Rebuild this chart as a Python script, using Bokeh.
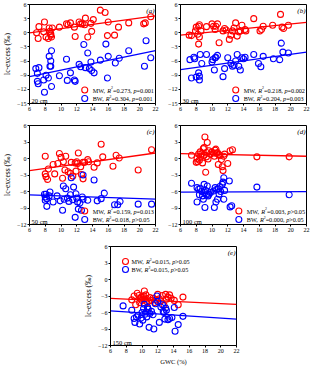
from bokeh.plotting import figure
from bokeh.layouts import column, row, Spacer
from bokeh.models import FixedTicker, Range1d
from bokeh.core.properties import value
from bokeh.embed import file_html
from bokeh.resources import INLINE
import numpy as np

FONT = "Liberation Serif"
RED = "#ff0000"
BLUE = "#0000ff"

x_ticks = [6, 8, 10, 12, 14, 16, 18, 20, 22]
y_ticks_ab = [-15, -12, -9, -6, -3, 0, 3, 6]
y_ticks_cde = [-12, -9, -6, -3, 0, 3, 6]
panel_tags = ["(a)", "(b)", "(c)", "(d)", "(e)"]
depths = ["20 cm", "30 cm", "50 cm", "100 cm", "150 cm"]
y_title = "lc-excess (‰)"
x_title = "GWC (%)"

# ---- panel (a) 20 cm
xa_mw = [6.9, 7.1, 7.2, 7.8, 7.9, 8.1, 8.4, 8.5, 8.6, 8.7, 8.7, 8.8, 8.9, 9.8, 10.7, 10.9, 11.2, 11.7, 11.8, 12.3,
         12.5, 12.7, 13.0, 13.1, 13.4, 13.8, 13.9, 14.1, 15.0, 15.6, 16.0, 15.9, 16.8, 17.3, 18.6, 20.5, 20.7, 21.4]
ya_mw = [0.0, -1.2, 1.3, 0.2, 2.3, -0.9, -1.2, 1.0, 0.3, -0.2, -0.5, -0.9, 1.0, 1.2, 1.9, 1.7, 2.1, 1.2, -0.8, 2.3,
         1.9, 1.9, 1.7, 3.1, -0.9, 2.0, 0.3, 2.8, 4.8, 4.3, 2.3, -0.6, -0.5, 1.2, 2.1, 1.9, 2.1, 3.4]
xa_bw = [6.8, 7.0, 7.0, 7.1, 7.2, 7.8, 7.9, 8.1, 8.4, 8.5, 8.6, 8.7, 8.7, 8.8, 8.8, 9.8, 10.7, 10.8, 11.2, 11.7,
         11.8, 12.3, 12.5, 12.9, 13.1, 13.4, 13.6, 13.8, 13.9, 14.2, 15.0, 15.7, 15.9, 16.0, 16.9, 17.4, 18.6, 20.6, 20.8, 21.4]
ya_bw = [-7.6, -8.6, -10.3, -10.8, -7.4, -10.0, -12.6, -9.0, -9.6, -5.0, -7.1, -7.1, -6.0, -3.8, -11.4, -9.1, -5.6, -10.1, -8.5, -10.0,
         -10.3, -6.7, -7.2, -2.5, -7.4, -4.3, -7.6, -6.2, -8.0, -8.5, -5.8, -2.4, -9.6, -5.0, -6.4, -5.4, -3.8, -7.1, -1.7, -5.3]

# ---- panel (b) 30 cm
xb_mw = [7.1, 7.4, 7.9, 8.0, 8.2, 8.3, 8.4, 8.3, 8.4, 8.6, 9.3, 10.0, 10.2, 10.4, 10.5, 10.7, 10.9, 11.4, 11.6, 11.8,
         12.2, 12.4, 12.6, 12.8, 13.0, 13.2, 13.4, 13.6, 13.8, 14.2, 14.3, 15.3, 16.1, 16.3, 16.5, 17.7, 18.7, 18.9, 19.1, 19.7]
yb_mw = [-0.5, -0.6, 0.4, 1.2, -0.3, 1.4, 1.7, -2.4, -0.9, 0.4, 1.3, 1.9, 1.4, 0.7, 1.4, 1.9, -2.1, 0.4, 0.9, 0.6,
         -1.4, -0.5, 0.4, 1.0, 2.1, -0.7, 0.2, 0.4, 1.6, 0.7, 0.4, 3.0, 0.4, 0.7, 1.4, 1.6, 3.9, 1.2, 0.9, 1.6]
xb_bw = [7.2, 7.4, 7.7, 7.8, 8.0, 8.3, 8.4, 8.4, 8.5, 8.7, 9.3, 10.0, 10.1, 10.3, 10.4, 10.5, 10.7, 11.4, 11.6, 12.0,
         12.4, 12.6, 12.8, 13.0, 13.2, 13.4, 13.6, 13.8, 14.0, 14.2, 15.3, 15.9, 16.2, 16.5, 17.8, 18.6, 18.8, 19.0, 19.7]
yb_bw = [-5.7, -9.6, -5.2, -5.5, -9.4, -8.5, -9.2, -10.0, -4.6, -6.5, -4.6, -6.2, -5.7, -7.9, -5.3, -5.2, -4.8, -9.3, -7.6, -5.3,
         -6.5, -7.1, -6.9, -6.0, -4.6, -7.1, -7.9, -5.3, -5.5, -5.2, -4.6, -6.5, -7.2, -5.0, -5.5, -5.7, -2.2, -4.1, -4.3]

# ---- panel (c) 50 cm
xc_mw = [8.0, 8.0, 8.1, 8.3, 8.4, 9.0, 9.2, 9.6, 9.8, 10.0, 10.2, 10.3, 10.5, 10.6, 10.9, 11.2, 11.3, 11.5, 11.8, 11.9,
         12.0, 12.1, 12.2, 12.5, 12.6, 12.8, 12.8, 13.0, 13.4, 13.5, 14.2, 14.6, 15.1, 15.3, 16.6, 17.0, 17.4, 19.8, 21.5]
yc_mw = [0.4, -2.8, -3.3, -3.8, -1.9, -1.1, -2.8, -0.9, 0.9, 0.2, -3.6, -0.6, -2.1, 0.4, -2.4, -2.7, -0.7, -3.2, -0.8, -2.3,
         -0.6, -0.9, 1.0, -1.5, -2.9, -0.7, -3.7, -0.7, -0.2, -0.6, -1.6, -0.8, 2.6, 0.3, -1.4, 0.6, 0.1, -2.1, 1.6]
xc_bw = [7.9, 8.0, 8.0, 8.1, 8.2, 8.2, 8.5, 8.6, 9.0, 9.5, 9.9, 10.2, 10.3, 10.4, 10.6, 10.8, 11.0, 11.2, 11.3, 11.5,
         11.6, 11.8, 11.9, 12.0, 12.1, 12.2, 12.4, 12.6, 12.7, 12.8, 12.8, 13.4, 14.2, 14.6, 15.1, 15.5, 16.8, 17.2, 17.5, 19.8, 21.5]
yc_bw = [-6.5, -7.0, -7.6, -6.5, -8.7, -7.3, -6.8, -6.1, -7.9, -6.8, -7.7, -9.4, -5.0, -7.4, -5.5, -7.2, -7.8, -6.6, -3.5, -7.5,
         -5.2, -10.7, -6.4, -7.2, -7.9, -9.2, -8.1, -9.4, -7.0, -3.0, -7.4, -7.6, -3.9, -7.7, -7.3, -6.3, -8.4, -8.4, -7.8, -8.3, -8.3]

# ---- panel (d) 100 cm
xd_mw = [7.4, 8.0, 8.1, 8.2, 8.3, 8.4, 8.5, 8.6, 8.7, 8.8, 8.9, 9.0, 9.0, 9.1, 9.2, 9.3, 9.3, 9.4, 9.5, 9.6,
         9.8, 10.0, 10.2, 10.3, 10.4, 10.5, 10.6, 10.7, 10.8, 10.9, 11.0, 11.2, 11.3, 11.4, 11.5, 11.6, 12.0, 12.3, 12.6, 15.7, 19.8]
yd_mw = [0.6, -0.7, 0.0, -0.6, 0.8, -0.3, 1.2, 0.4, 0.9, -0.8, 1.8, 2.0, 0.6, 3.9, -2.5, 0.3, 1.1, 2.9, -0.1, 1.4,
         0.8, 1.2, 1.0, 0.4, 1.5, 1.7, 0.9, 1.1, -1.1, 0.7, 0.5, -0.2, -1.5, -2.2, 0.4, 0.8, -0.9, 1.4, 1.6, 0.3, 0.3]
xd_bw = [7.4, 8.1, 8.1, 8.3, 8.4, 8.5, 8.7, 8.8, 8.9, 9.0, 9.1, 9.1, 9.2, 9.3, 9.4, 9.5, 9.6, 9.8, 10.2, 10.3,
         10.4, 10.5, 10.6, 10.7, 10.8, 10.9, 11.0, 11.1, 11.3, 11.4, 11.5, 11.5, 11.6, 12.2, 12.3, 12.5, 15.7, 19.8]
yd_bw = [-4.5, -7.9, -5.3, -5.6, -6.6, -5.4, -6.0, -6.8, -7.4, -4.7, -8.9, -6.2, -5.8, -6.6, -5.0, -6.8, -6.5, -6.2, -5.9, -8.9,
         -5.3, -7.9, -5.6, -7.4, -5.5, -6.5, -5.1, -6.0, -4.7, -4.3, -3.5, -7.4, -5.8, -4.1, -8.8, -8.6, -5.2, -6.6]

# ---- panel (e) 150 cm
xe_mw = [8.7, 9.0, 9.2, 9.4, 9.6, 9.7, 9.8, 9.9, 10.0, 10.1, 10.2, 10.3, 10.4, 10.5, 10.6, 10.7, 10.9, 11.0, 11.2, 11.4,
         11.6, 11.8, 12.0, 12.2, 12.4, 12.6, 12.8, 13.0, 13.1, 13.3, 13.5, 13.7, 14.1, 14.6, 15.2]
ye_mw = [-3.7, -3.0, -4.6, -2.5, -2.9, -4.2, -3.5, -3.2, -3.8, -3.3, -3.0, -2.1, -3.6, -2.8, -4.0, -5.2, -3.9, -3.3, -3.8, -3.4,
         -4.2, -3.7, -2.7, -3.5, -3.9, -2.9, -4.7, -2.7, -3.6, -3.2, -2.8, -3.4, -3.8, -4.6, -3.2]
xe_bw = [7.6, 8.7, 9.0, 9.1, 9.3, 9.5, 9.7, 9.9, 10.0, 10.1, 10.2, 10.3, 10.4, 10.5, 10.6, 10.7, 10.8, 10.9, 11.0, 11.2,
         11.4, 11.5, 11.7, 11.9, 12.0, 12.2, 12.4, 12.6, 12.7, 12.8, 12.9, 13.0, 13.1, 13.3, 13.5, 13.8, 14.1, 14.2, 14.6, 15.2]
ye_bw = [-4.8, -5.6, -7.1, -7.8, -6.8, -6.5, -8.1, -7.0, -6.0, -7.4, -5.3, -4.5, -6.3, -5.9, -6.8, -5.0, -5.4, -8.7, -6.2, -5.8,
         -6.4, -9.0, -4.4, -3.0, -4.0, -7.8, -5.0, -4.6, -5.8, -6.0, -7.2, -5.2, -5.6, -7.3, -7.1, -6.9, -5.1, -9.4, -8.2, -6.7]

# fitted regression coefficients (intercept, slope)
fit_mw = [(-1.35, 0.225), (-1.51, 0.169), (-3.40, 0.200), (1.09, -0.031), (-3.00, -0.069)]
fit_bw = [(-11.36, 0.344), (-9.19, 0.231), (-6.30, -0.050), (-6.14, 0.006), (-5.14, -0.094)]

r2_mw = ["0.273", "0.218", "0.159", "0.003", "0.015"]
p_mw = ["=0.001", "=0.002", "=0.013", ">0.05", ">0.05"]
r2_bw = ["0.304", "0.204", "0.018", "0.000", "0.015"]
p_bw = ["=0.001", "=0.003", ">0.05", ">0.05", ">0.05"]

# Times-like glyph advance widths (per 1000 em)
REG_W = {"M": 889, "W": 944, "B": 667, ",": 250, " ": 250, "=": 564, ">": 564, "<": 564, ".": 250}
for d in "0123456789":
    REG_W[d] = 500
ITA_W = {"R": 611, "p": 500}


def text_width(s, style, fs):
    tbl = ITA_W if style == "italic" else REG_W
    return sum(tbl.get(c, 500) for c in s) * fs / 1000.0


FW = 126
FH = 99
XMIN, XMAX = 6, 22
TICK_FS = "6px"
LEG_FS = 6.2
MSIZE = 6


def legend_pieces(name, r2, pv):
    return [(name + ", ", "normal", False), ("R", "italic", False), ("2", "normal", True),
            ("=" + r2 + ", ", "normal", False), ("p", "italic", False), (pv, "normal", False)]


def draw_rich(p, pieces, xa, ya, x_px, y_px, fs):
    cur = 0.0
    for txt, style, sup in pieces:
        f = fs * 0.62 if sup else fs
        p.text(x=[xa], y=[ya], text=[txt], x_offset=x_px + cur,
               y_offset=y_px - (fs * 0.36 if sup else 0.0),
               text_font=value(FONT), text_font_size=f"{f:.2f}px", text_font_style=style,
               text_align="left", text_baseline="middle", text_color="black")
        cur += text_width(txt, style, f)
    return cur


def total_width(pieces, fs):
    return sum(text_width(t, s, fs * 0.62 if sup else fs) for t, s, sup in pieces)


def make_panel(i, xm, ym, xb, yb, ymin, yticks, left_label, bottom_label, legend_top,
               bl, br, bb):
    p = figure(frame_width=FW, frame_height=FH, x_range=Range1d(XMIN, XMAX), y_range=Range1d(ymin, 6),
               output_backend="svg", toolbar_location=None,
               min_border_left=bl, min_border_right=br, min_border_top=4, min_border_bottom=bb)
    p.xgrid.visible = False
    p.ygrid.visible = False
    p.outline_line_color = "black"
    p.outline_line_width = 1
    p.outline_line_alpha = 1
    p.background_fill_color = "white"
    p.border_fill_color = "white"
    p.xaxis.ticker = FixedTicker(ticks=x_ticks)
    p.yaxis.ticker = FixedTicker(ticks=yticks)
    for ax in (p.xaxis[0], p.yaxis[0]):
        ax.major_label_text_font = FONT
        ax.major_label_text_font_size = TICK_FS
        ax.major_label_text_color = "black"
        ax.major_tick_out = 2
        ax.major_tick_in = 0
        ax.minor_tick_out = 0
        ax.minor_tick_in = 0
        ax.axis_line_color = "black"
        ax.major_tick_line_color = "black"
        ax.major_label_standoff = 1
        ax.axis_label_text_font = FONT
        ax.axis_label_text_font_style = "normal"
        ax.axis_label_text_color = "black"
    if left_label:
        p.yaxis.axis_label = y_title
        p.yaxis.axis_label_text_font_size = "7.5px"
        p.yaxis.axis_label_standoff = 2
    if bottom_label:
        p.xaxis.axis_label = x_title
        p.xaxis.axis_label_text_font_size = "6.5px"
        p.xaxis.axis_label_standoff = 2

    # regression lines
    xs = np.array([XMIN, XMAX], dtype=float)
    a, b = fit_mw[i]
    p.line(xs, a + b * xs, line_color=RED, line_width=1.3)
    a, b = fit_bw[i]
    p.line(xs, a + b * xs, line_color=BLUE, line_width=1.3)

    p.scatter(xm, ym, marker="circle", size=MSIZE, fill_color=None, line_color=RED, line_width=1.1)
    p.scatter(xb, yb, marker="circle", size=MSIZE, fill_color=None, line_color=BLUE, line_width=1.1)

    # panel tag and depth
    p.text(x=[XMAX], y=[6], text=[panel_tags[i]], x_offset=-1, y_offset=2,
           text_font=value(FONT), text_font_size="7px", text_font_style="italic",
           text_align="right", text_baseline="top", text_color="black")
    p.text(x=[XMIN], y=[ymin], text=[depths[i]], x_offset=2, y_offset=0,
           text_font=value(FONT), text_font_size="6.5px",
           text_align="left", text_baseline="bottom", text_color="black")

    # legend
    ppx = FW / (XMAX - XMIN)
    ppy = FH / (6 - ymin)
    pm = legend_pieces("MW", r2_mw[i], p_mw[i])
    pb = legend_pieces("BW", r2_bw[i], p_bw[i])
    if legend_top:
        rows_px = [15, 23]
        tx = 21
        mx = XMIN + 15 / ppx
        for pcs, rpx, col in ((pm, rows_px[0], RED), (pb, rows_px[1], BLUE)):
            draw_rich(p, pcs, XMIN, 6, tx, rpx, LEG_FS)
            p.scatter([mx], [6 - rpx / ppy], marker="circle", size=MSIZE, fill_color=None,
                      line_color=col, line_width=1.1)
    else:
        rows_px = [13.5, 5]
        wmax = max(total_width(pm, LEG_FS), total_width(pb, LEG_FS))
        start = -(1.5 + wmax)
        mx = XMAX + (start - 8) / ppx
        for pcs, rpx, col in ((pm, rows_px[0], RED), (pb, rows_px[1], BLUE)):
            draw_rich(p, pcs, XMAX, ymin, start, -rpx, LEG_FS)
            p.scatter([mx], [ymin + rpx / ppy], marker="circle", size=MSIZE, fill_color=None,
                      line_color=col, line_width=1.1)
    return p


pa = make_panel(0, xa_mw, ya_mw, xa_bw, ya_bw, -15, y_ticks_ab, True, False, False, 24, 10, 18)
pb_ = make_panel(1, xb_mw, yb_mw, xb_bw, yb_bw, -15, y_ticks_ab, False, False, False, 13, 4, 18)
pc = make_panel(2, xc_mw, yc_mw, xc_bw, yc_bw, -12, y_ticks_cde, True, False, False, 24, 10, 18)
pd = make_panel(3, xd_mw, yd_mw, xd_bw, yd_bw, -12, y_ticks_cde, False, False, False, 13, 4, 18)
pe = make_panel(4, xe_mw, ye_mw, xe_bw, ye_bw, -12, y_ticks_cde, True, True, True, 24, 4, 22)

layout = column(row(pa, pb_), row(pc, pd), row(Spacer(width=81, height=10), pe))

open("out.html", "w").write(file_html(layout, INLINE))
